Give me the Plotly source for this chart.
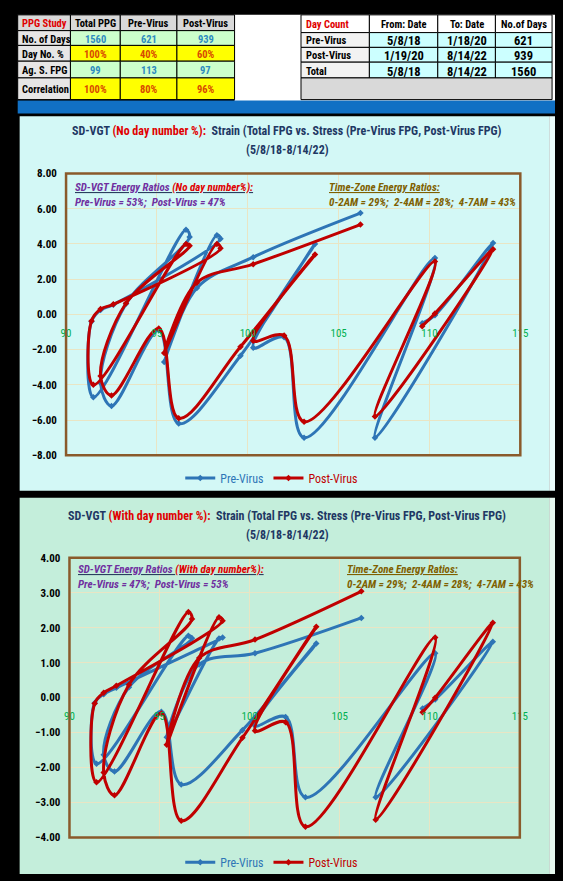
import plotly.graph_objects as go

W, H = 563, 881

# ---------------- data ----------------
left_header = ["PPG Study", "Total PPG", "Pre-Virus", "Post-Virus"]
left_rows = ["No. of Days", "Day No. %", "Ag. S. FPG", "Correlation"]
left_total = ["1560", "100%", "99", "100%"]
left_pre = ["621", "40%", "113", "80%"]
left_post = ["939", "60%", "97", "96%"]

right_header = ["Day Count", "From: Date", "To: Date", "No.of Days"]
right_rows = ["Pre-Virus", "Post-Virus", "Total"]
right_from = ["5/8/18", "1/19/20", "5/8/18"]
right_to = ["1/18/20", "8/14/22", "8/14/22"]
right_days = ["621", "939", "1560"]

# Total FPG (x, shared) and strain values
total_fpg = [106.2, 100.3, 97.2, 95.4, 98.3, 98.5, 92.6, 91.9, 91.4, 91.5, 96.6, 96.8, 93.3,
             91.9, 92.5, 95.1, 96.2, 99.6, 103.7, 100.3, 102.0, 103.1, 110.3, 107.0, 113.5, 110.3, 109.6]
pre_no_day = [5.75, 3.25, 1.5, -2.7, 4.5, 4.3, 0.55, 0.25, -0.4, -4.7, 4.8, 4.4, 0.6,
              -3.9, -5.2, -0.9, -6.2, -2.35, 4.0, -1.9, -1.3, -7.0, 3.2, -7.0, 4.05, -0.05, -0.5]
post_no_day = [5.1, 2.85, 1.8, -2.2, 4.0, 3.75, 0.57, 0.3, -0.37, -4.0, 4.0, 3.9, 0.63,
               -3.5, -4.6, -0.8, -5.9, -1.84, 3.4, -1.5, -1.2, -6.1, 3.0, -5.8, 3.7, 0.05, -0.67]
pre_with_day = [2.28, 1.27, 0.95, -1.13, 1.69, 1.72, 0.28, 0.1, -0.15, -1.89, 1.77, 1.7, 0.3,
                -1.63, -2.11, -0.4, -2.48, -0.93, 1.55, -0.8, -0.55, -2.85, 1.27, -2.85, 1.6, -0.05, -0.31]
post_with_day = [3.04, 1.66, 1.13, -1.35, 2.3, 2.2, 0.34, 0.14, -0.17, -2.42, 2.45, 2.25, 0.37,
                 -2.14, -2.79, -0.45, -3.52, -1.15, 2.03, -0.95, -0.7, -3.69, 1.72, -3.49, 2.14, 0.0, -0.42]

x_ticks = [90, 95, 100, 105, 110, 115]

FONT = "Liberation Sans Narrow, Roboto Condensed, Arial Narrow, Liberation Sans, sans-serif"
BLUE = "#2e75b6"
RED = "#c00000"
NAVY = "#1f3864"
PURPLE = "#7030a0"
BROWN = "#7f6000"


def fx(px):
    return px / W


def fy(py):
    return 1 - py / H


shapes = []
ann = []


def rect(x0, y0, x1, y1, fill, line=None, lw=1, layer="below"):
    d = dict(type="rect", xref="paper", yref="paper", x0=fx(x0), x1=fx(x1), y0=fy(y1), y1=fy(y0),
             fillcolor=fill, layer=layer, line=dict(width=lw if line else 0, color=line or fill))
    shapes.append(d)


def text(px, py, s, size=11, color="black", bold=True, xanchor="center", italic=False):
    t = s
    if bold:
        t = "<b>" + t + "</b>"
    if italic:
        t = "<i>" + t + "</i>"
    ann.append(dict(x=fx(px), y=fy(py), xref="paper", yref="paper", text=t, showarrow=False,
                    xanchor=xanchor, yanchor="middle", font=dict(size=size, color=color, family=FONT)))


# ---------------- backgrounds ----------------
rect(235, 9, 563, 97, "white")
rect(13, 96, 563, 109, "#1170c4")
rect(15, 112, 557, 492, "#d3f8f6")
rect(557, 112, 563, 492, "#eafcfb")
rect(15, 499, 557, 881, "#c4eedb")
rect(557, 499, 563, 881, "#e6f8ef")

# ---------------- left table ----------------
lcols = [13, 67, 118, 176, 235]
lrows = [9, 25, 40, 56, 73, 95]
for c in range(4):
    rect(lcols[c], lrows[0], lcols[c + 1], lrows[1], "#d9d9d9", "black")
    text((lcols[c] + lcols[c + 1]) / 2, (lrows[0] + lrows[1]) / 2 + 1, left_header[c], 10.5,
         "#e00000" if c == 0 else "black")
vals = [left_total, left_pre, left_post]
for r in range(4):
    y0, y1 = lrows[r + 1], lrows[r + 2]
    rect(lcols[0], y0, lcols[1], y1, "#e7e6e6", "black")
    text(lcols[0] + 2, (y0 + y1) / 2 + 1, left_rows[r], 10.5, "black", xanchor="left")
    green = r in (0, 2)
    for c in range(3):
        rect(lcols[c + 1], y0, lcols[c + 2], y1, "#ccffcc" if green else "#ffff00", "black")
        text((lcols[c + 1] + lcols[c + 2]) / 2, (y0 + y1) / 2 + 1, vals[c][r], 10.5,
             "#2e8bc0" if green else "#d84a00")

# ---------------- right table ----------------
rcols = [303, 373, 443, 502, 560]
rrows = [9, 27, 42, 57, 73, 95]
for c in range(4):
    rect(rcols[c], rrows[0], rcols[c + 1], rrows[1], "#ffffff", "black")
    if c == 0:
        text(rcols[c] + 3, (rrows[0] + rrows[1]) / 2 + 1, right_header[c], 10.5, "#e00000", xanchor="left")
    else:
        text((rcols[c] + rcols[c + 1]) / 2, (rrows[0] + rrows[1]) / 2 + 1, right_header[c], 10.5, "black")
rvals = [right_from, right_to, right_days]
for r in range(3):
    y0, y1 = rrows[r + 1], rrows[r + 2]
    rect(rcols[0], y0, rcols[1], y1, "#f2f2f2", "black")
    text(rcols[0] + 3, (y0 + y1) / 2 + 1, right_rows[r], 10.5, "black", xanchor="left")
    for c in range(3):
        rect(rcols[c + 1], y0, rcols[c + 2], y1, "#ccffff", "black")
        text((rcols[c + 1] + rcols[c + 2]) / 2, (y0 + y1) / 2 + 1, rvals[c][r], 12.5, "black")
rect(rcols[0], rrows[4], rcols[4], rrows[5], "#d9d9d9", "black")

# ---------------- titles ----------------
def title(py, tag):
    s = ("<b><span style='color:%s'>SD-VGT </span><span style='color:#e00000'>(%s):</span>"
         "<span style='color:%s'>  Strain (Total FPG vs. Stress (Pre-Virus FPG, Post-Virus FPG)</span></b>"
         % (NAVY, tag, NAVY))
    ann.append(dict(x=fx(289), y=fy(py), xref="paper", yref="paper", text=s, showarrow=False,
                    xanchor="center", yanchor="middle", font=dict(size=12, family=FONT)))
    text(289, py + 19, "(5/8/18-8/14/22)", 12, NAVY)


title(127, "No day number %")
title(518, "With day number %")


def inner_notes(ytop, xl, xr, tag, pre, post):
    ann.append(dict(x=fx(xl), y=fy(ytop), xref="paper", yref="paper", showarrow=False, xanchor="left",
                    yanchor="middle", font=dict(size=11, family=FONT),
                    text="<b><i><u><span style='color:%s'>SD-VGT Energy Ratios </span>"
                         "<span style='color:#e00000'>(%s):</span></u></i></b>" % (PURPLE, tag)))
    ann.append(dict(x=fx(xl), y=fy(ytop + 15), xref="paper", yref="paper", showarrow=False, xanchor="left",
                    yanchor="middle", font=dict(size=11, family=FONT, color=PURPLE),
                    text="<b><i>Pre-Virus = %s;  Post-Virus = %s</i></b>" % (pre, post)))
    ann.append(dict(x=fx(xr), y=fy(ytop), xref="paper", yref="paper", showarrow=False, xanchor="left",
                    yanchor="middle", font=dict(size=11, family=FONT, color=BROWN),
                    text="<b><i><u>Time-Zone Energy Ratios:</u></i></b>"))
    ann.append(dict(x=fx(xr), y=fy(ytop + 15), xref="paper", yref="paper", showarrow=False, xanchor="left",
                    yanchor="middle", font=dict(size=11, family=FONT, color=BROWN),
                    text="<b><i>0-2AM = 29%;  2-4AM = 28%;  4-7AM = 43%</i></b>"))


inner_notes(184, 70, 330, "No day number%", "53%", "47%")
inner_notes(572, 73, 348, "With day number%", "47%", "53%")

# ---------------- traces ----------------
fig = go.Figure()


def series(y, name, color, xa, ya, legend):
    fig.add_trace(go.Scatter(
        x=total_fpg, y=y, mode="lines+markers", xaxis=xa, yaxis=ya, legend=legend,
        name="<span style='color:%s'>%s</span>" % (color, name),
        line=dict(color=color, width=3, shape="spline", smoothing=1.0),
        marker=dict(color=color, size=5, symbol="diamond"), hoverinfo="skip"))


series(pre_no_day, "Pre-Virus", BLUE, "x", "y", "legend")
series(post_no_day, "Post-Virus", RED, "x", "y", "legend")
series(pre_with_day, "Pre-Virus", BLUE, "x2", "y2", "legend2")
series(post_with_day, "Post-Virus", RED, "x2", "y2", "legend2")

GRID = "#e9e5c4"
xcommon = dict(range=[90, 115], tickvals=x_ticks, showgrid=True, gridcolor=GRID, zeroline=False,
               showline=False, ticks="outside", ticklen=8, tickcolor="rgba(0,0,0,0)",
               tickfont=dict(color="#00b050", size=11, family=FONT), fixedrange=True)
ycommon = dict(showgrid=True, gridcolor=GRID, zeroline=False, showline=False, tickformat=".2f",
               ticks="outside", ticklen=6, tickcolor="rgba(0,0,0,0)",
               tickfont=dict(color="black", size=11, family=FONT, weight="bold"), fixedrange=True)

# plot-area borders
for xr_, yr_ in (("x", "y"), ("x2", "y2")):
    shapes.append(dict(type="rect", xref=xr_ + " domain", yref=yr_ + " domain", x0=0, x1=1, y0=0, y1=1,
                       line=dict(color="#8a5a2b", width=2.5), layer="above"))

fig.update_layout(
    width=W, height=H, margin=dict(l=0, r=0, t=0, b=0),
    paper_bgcolor="black", plot_bgcolor="#fffbd0",
    xaxis=dict(domain=[fx(62.5), fx(527.5)], anchor="free", position=fy(313.3), **xcommon),
    yaxis=dict(domain=[fy(456), fy(170)], range=[-8, 8], dtick=2, anchor="x", **ycommon),
    xaxis2=dict(domain=[fx(66), fx(527)], anchor="free", position=fy(702), **xcommon),
    yaxis2=dict(domain=[fy(844), fy(560)], range=[-4, 4], dtick=1, anchor="x2", **ycommon),
    legend=dict(orientation="h", x=0.485, y=fy(479), xanchor="center", yanchor="middle",
                bgcolor="rgba(0,0,0,0)", font=dict(size=12, family=FONT), itemwidth=30),
    legend2=dict(orientation="h", x=0.485, y=fy(869), xanchor="center", yanchor="middle",
                 bgcolor="rgba(0,0,0,0)", font=dict(size=12, family=FONT), itemwidth=30),
    shapes=shapes, annotations=ann, showlegend=True,
)

fig.write_html("out.html", config={"displayModeBar": False},
               post_script="document.body.style.margin='0';document.body.style.background='black';")
